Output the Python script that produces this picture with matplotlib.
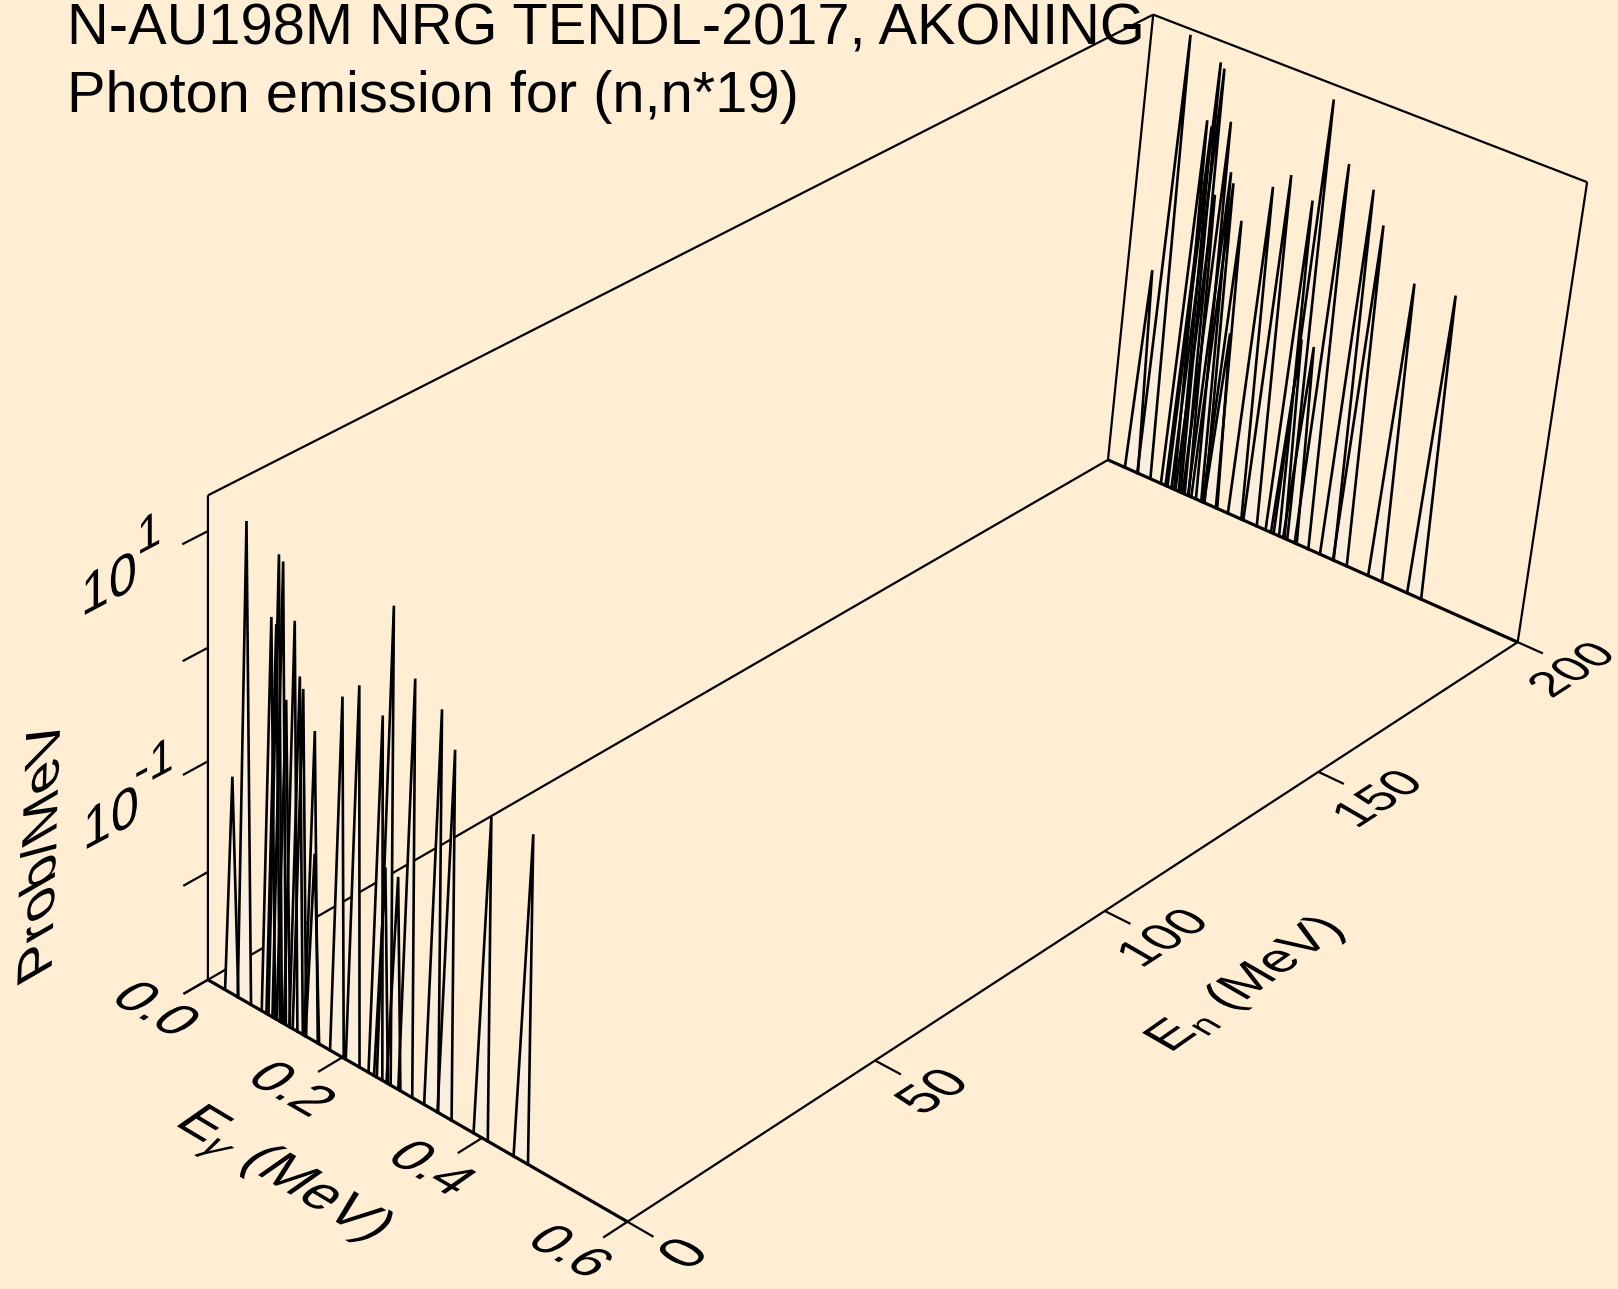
import numpy as np
import matplotlib
matplotlib.use('Agg')
import matplotlib.pyplot as plt
from matplotlib.patheffects import AbstractPathEffect
from matplotlib.transforms import Affine2D

# photon lines, the same spectrum is drawn at both ends of the En axis
e_gamma = [0.036, 0.055, 0.091, 0.098, 0.101, 0.107, 0.113, 0.124, 0.132, 0.137, 0.154, 0.156,
           0.192, 0.215, 0.248, 0.256, 0.260, 0.274, 0.291, 0.328, 0.347, 0.398, 0.454]
prob = [0.096, 17.8, 3.55, 3.24, 12.9, 11.7, 0.81, 4.17, 1.48, 1.20, 0.59, 0.050,
        1.55, 2.29, 1.62, 0.083, 14.8, 0.079, 4.57, 3.31, 1.74, 0.69, 0.76]
e_neutron = [0.0, 200.0]
half_width = 0.01

e_ticks = [0.0, 0.2, 0.4, 0.6]
en_ticks = [0, 50, 100, 150, 200]
z_ticks = [-3, -2, -1, 0, 1]
z_min, z_max = -3.0, 1.301

# 3D box -> pixels, fitted on the box corners and ticks
PROJ = np.array([[383.9606, 1063.1548, -11.391, 207.8986],
                 [172.6958, -452.2102, -511.6066, 979.7829],
                 [-0.0567, 0.1472, -0.0549, 1.0]])


def project(e, en, logp):
    e, en, logp = np.broadcast_arrays(e, en, logp)
    h = np.stack([e / 0.6, en / 200.0, (logp - z_min) / (z_max - z_min), np.ones(e.shape)])
    x, y, w = PROJ @ h
    return x / w, y / w


class Skew(AbstractPathEffect):
    # text lying in a plane of the box: glyph "up" goes along phi instead of theta+90
    def __init__(self, xy, theta, phi, h=1.0):
        super().__init__()
        self.xy, self.theta, self.phi, self.h = xy, theta, phi, h

    def draw_path(self, renderer, gc, tpath, affine, rgbFace=None):
        cx, cy = ax.transData.transform(self.xy)
        a = np.radians(self.phi - self.theta)
        m = (Affine2D().translate(-cx, -cy).rotate_deg(-self.theta)
             + Affine2D.from_values(1, 0, self.h * np.cos(a), self.h * np.sin(a), 0, 0)
             + Affine2D().rotate_deg(self.theta).translate(cx, cy))
        renderer.draw_path(gc, tpath, affine + m, rgbFace)


def label(x, y, s, size, theta, phi, h=1.0):
    ax.text(x, y, s, fontsize=size, rotation=theta, rotation_mode='anchor', ha='center', va='center',
            path_effects=[Skew((x, y), theta, phi, h)], zorder=200)


plt.rcParams['font.family'] = ['Liberation Sans', 'DejaVu Sans']
plt.rcParams['mathtext.fontset'] = 'custom'
plt.rcParams['mathtext.rm'] = 'Liberation Sans'
plt.rcParams['mathtext.it'] = 'Liberation Sans:italic'

BG = '#ffeed3'
FILL = '#faeedd'
LW = 1.6

fig = plt.figure(figsize=(16.18, 12.89), dpi=100, facecolor=BG)
ax = fig.add_axes([0, 0, 1, 1])
ax.set_xlim(0, 1618)
ax.set_ylim(1289, 0)
ax.axis('off')


def line3d(e, en, z, lw=LW, zorder=1):
    x, y = project(e, en, z)
    ax.plot(x, y, color='k', lw=lw, solid_capstyle='butt', solid_joinstyle='miter', zorder=zorder)


# box
line3d([0, 0], [0, 200], [z_min, z_min])
line3d([0.6, 0.6], [0, 200], [z_min, z_min])
line3d([0, 0], [0, 0], [z_min, z_max])
line3d([0, 0], [200, 200], [z_min, z_max])
line3d([0.6, 0.6], [200, 200], [z_min, z_max])
line3d([0, 0], [0, 200], [z_max, z_max])
line3d([0, 0.6], [200, 200], [z_max, z_max])

# ticks
for t in e_ticks:
    line3d([t, t], [0, -4.7], [z_min, z_min])
for t in en_ticks:
    line3d([0.6, 0.635], [t, t], [z_min, z_min])
for t in z_ticks:
    line3d([0, 0], [0, -4.7], [t, t])

# spikes, far end first: fills hide what is behind the group, outlines of a group all stay visible
order = 2
for en in e_neutron[::-1]:
    for e, p in zip(e_gamma, prob):
        x, y = project([e - half_width, e, e + half_width], en, [z_min, np.log10(p), z_min])
        ax.fill(x, y, facecolor=FILL, edgecolor='none', zorder=order)
    order += 1
    for e, p in zip(e_gamma, prob):
        x, y = project([e - half_width, e, e + half_width], en, [z_min, np.log10(p), z_min])
        ax.plot(x, y, color='k', lw=1.9, solid_joinstyle='miter', zorder=order)
    line3d([0, 0.6], [en, en], [z_min, z_min], lw=2.3, zorder=order)
    order += 1

# titles
ax.text(67, 44, 'N-AU198M NRG TENDL-2017, AKONING', fontsize=41.6, va='baseline', zorder=200)
ax.text(67, 112, 'Photon emission for (n,n*19)', fontsize=41.6, va='baseline', zorder=200)

# tick labels and axis titles
for s, x, y, size in zip(['0.0', '0.2', '0.4', '0.6'], [153, 289, 429, 568], [1011, 1091, 1170, 1253],
                         [40, 40, 40, 38.5]):
    label(x, y, s, size, -30, 35)
label(281, 1176, r'E$_{\gamma}$ (MeV)', 41, -31, 35)
for s, x, y, size in zip(['0', '50', '100', '150', '200'], [686, 935, 1165, 1380, 1574],
                         [1255, 1093, 939, 800, 671], [41, 39, 36.5, 36, 34.5]):
    label(x, y, s, size, 33, 150)
label(1246, 985, r'E$_{\mathrm{n}}$ (MeV)', 38, 35, 150)
label(109, 587, '10', 41, 28, 90)
label(149, 536, '1', 36, 28, 90)
label(111, 821, '10', 41, 28, 90)
label(154, 766, '-1', 36, 28, 90)
label(43, 850, 'Prob/MeV', 41.5, 88, 210)

fig.savefig('out.png', dpi=100, facecolor=BG)
